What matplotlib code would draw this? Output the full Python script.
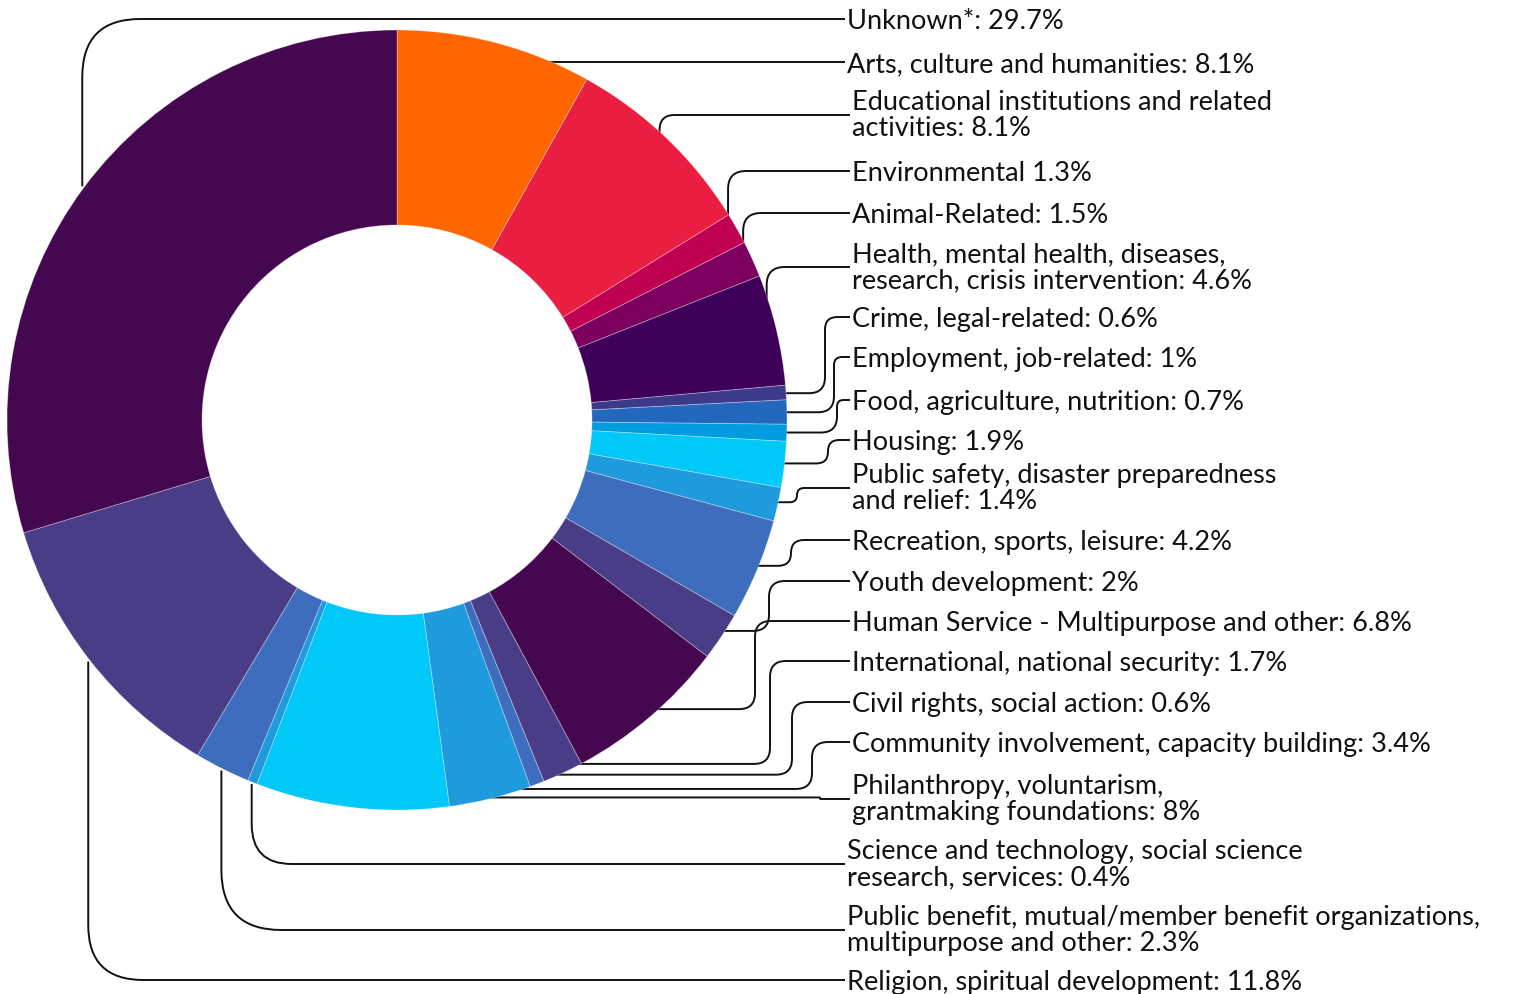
import numpy as np
import matplotlib
matplotlib.use("Agg")
import matplotlib.pyplot as plt
from matplotlib.path import Path
from matplotlib.patches import PathPatch

# slices, clockwise from 12 o'clock
labels = [
    "Arts, culture and humanities: 8.1%",
    "Educational institutions and related\nactivities: 8.1%",
    "Environmental 1.3%",
    "Animal-Related: 1.5%",
    "Health, mental health, diseases,\nresearch, crisis intervention: 4.6%",
    "Crime, legal-related: 0.6%",
    "Employment, job-related: 1%",
    "Food, agriculture, nutrition: 0.7%",
    "Housing: 1.9%",
    "Public safety, disaster preparedness\nand relief: 1.4%",
    "Recreation, sports, leisure: 4.2%",
    "Youth development: 2%",
    "Human Service - Multipurpose and other: 6.8%",
    "International, national security: 1.7%",
    "Civil rights, social action: 0.6%",
    "Community involvement, capacity building: 3.4%",
    "Philanthropy, voluntarism,\ngrantmaking foundations: 8%",
    "Science and technology, social science\nresearch, services: 0.4%",
    "Public benefit, mutual/member benefit organizations,\nmultipurpose and other: 2.3%",
    "Religion, spiritual development: 11.8%",
    "Unknown*: 29.7%",
]
values = [8.1, 8.1, 1.3, 1.5, 4.6, 0.6, 1.0, 0.7, 1.9, 1.4, 4.2, 2.0,
          6.8, 1.7, 0.6, 3.4, 8.0, 0.4, 2.3, 11.8, 29.7]
colors = ["#FF6600", "#E91E41", "#C00050", "#7D0060", "#3E0058", "#3D3A8C",
          "#2468BE", "#009CDF", "#00C8F8", "#1E9ADD", "#3E6DBE", "#4A3D88",
          "#45074F", "#4A3D88", "#3E6DBE", "#1E9ADD", "#00C8F8", "#1E9ADD",
          "#3E6DBE", "#4A3D88", "#45074F"]

# label layout (pixels, y down)
label_y = [63, 116, 172, 214, 268, 318, 358, 401, 441, 489, 541, 582, 622,
           662, 703, 743, 800, 865, 931, 981, 20]
bend_x = [None, None, None, None, None, 825, 834, 837, 828, 797, 791, 769,
          755, 770, 792, 812, 820, None, None, None, None]
corner = [16, 16, 18, 18, 18, 16, 16, 16, 16, 16, 16, 16, 16, 16, 16, 16, 10,
          40, 60, 55, 58]
text_x = [847, 852, 852, 852, 852, 852, 852, 852, 852, 852, 852, 852, 852,
          852, 852, 852, 852, 847, 847, 847, 847]

W, H = 1533, 995
cx, cy, R = 397, 421, 390

plt.rcParams['font.family'] = ['Lato', 'DejaVu Sans']

fig = plt.figure(figsize=(W / 100, H / 100), dpi=100)
ax = fig.add_axes([0, 0, 1, 1])

wedges, _ = ax.pie(values, colors=colors, startangle=-90, counterclock=True,
                   center=(cx, cy), radius=R,
                   wedgeprops=dict(width=195, edgecolor=(1, 1, 1, 0.35),
                                   linewidth=0.6, zorder=3))
ax.set_xlim(0, W)
ax.set_ylim(H, 0)
ax.set_aspect('equal')
ax.axis('off')


def rounded_path(points, rad):
    pts = [np.array(points[0], float)]
    for p in points[1:]:
        p = np.array(p, float)
        if np.linalg.norm(p - pts[-1]) > 0.5:
            pts.append(p)
    verts = [pts[0]]
    codes = [Path.MOVETO]
    for i in range(1, len(pts) - 1):
        p0, p1, p2 = pts[i - 1], pts[i], pts[i + 1]
        d1 = p1 - p0
        d2 = p2 - p1
        l1 = np.linalg.norm(d1)
        l2 = np.linalg.norm(d2)
        r = min(rad, l1 / 2, l2 / 2)
        verts += [p1 - d1 / l1 * r, p1, p1 + d2 / l2 * r]
        codes += [Path.LINETO, Path.CURVE3, Path.CURVE3]
    verts.append(pts[-1])
    codes.append(Path.LINETO)
    return Path(verts, codes)


total = sum(values)
cum = np.cumsum([0] + values)
for i, lab in enumerate(labels):
    mid = (cum[i] + cum[i + 1]) / 2 / total * 2 * np.pi
    # anchors on the left half sit a bit further out
    r_anchor = 392 if np.sin(mid) < -0.3 else 380
    sx = cx + r_anchor * np.sin(mid)
    sy = cy - r_anchor * np.cos(mid)
    ly = label_y[i]
    lx = text_x[i] - 2
    bx = sx if bend_x[i] is None else bend_x[i]
    path = rounded_path([(sx, sy), (bx, sy), (bx, ly), (lx, ly)], corner[i])
    ax.add_patch(PathPatch(path, facecolor='none', edgecolor='#111111',
                           linewidth=1.4, zorder=1))

    lines = lab.split("\n")
    if len(lines) == 1:
        ax.text(text_x[i], ly + 9, lines[0], fontsize=19.5, color='#111111',
                va='baseline', ha='left')
    else:
        for k, t in enumerate(lines):
            ax.text(text_x[i], ly - 2 - 13 + 26 * k + 9, t, fontsize=19.5,
                    color='#111111', va='baseline', ha='left')

fig.savefig("out.png", dpi=100)
